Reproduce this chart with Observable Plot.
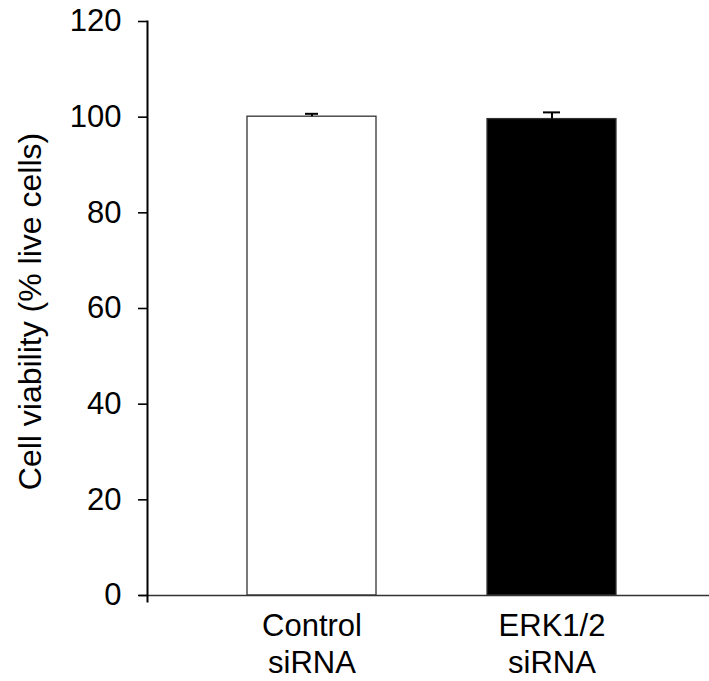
<!DOCTYPE html>
<html>
<head>
<meta charset="utf-8">
<script src="https://cdn.jsdelivr.net/npm/d3@7"></script>
<script src="https://cdn.jsdelivr.net/npm/@observablehq/plot@0.6"></script>
<style>
  html, body { margin: 0; padding: 0; background: #fff; }
  #chart { width: 709px; height: 681px; }
</style>
</head>
<body>
<div id="chart"></div>
<script>
const categories = ["Control siRNA", "ERK1/2 siRNA"];
const tickLabels = ["Control\nsiRNA", "ERK1/2\nsiRNA"];
const values = [100.1, 99.6];
const errors = [0.6, 1.4];
const barFills = ["#ffffff", "#000000"];
const yTicks = [0, 20, 40, 60, 80, 100, 120];
const yTitle = "Cell viability (% live cells)";

const data = categories.map((c, i) => ({cat: c, v: values[i], e: errors[i], fill: barFills[i]}));

const chart = Plot.plot({
  width: 709,
  height: 681,
  marginLeft: 147,
  marginRight: 0,
  marginTop: 21,
  marginBottom: 86,
  style: {fontFamily: "'Liberation Sans', Arial, Helvetica, sans-serif", fontSize: "31px", color: "#000", background: "#fff"},
  x: {domain: categories, paddingInner: 0.4625, paddingOuter: 0.402, align: 0.52, axis: null},
  y: {domain: [0, 120], axis: null},
  marks: [
    Plot.barY(data, {x: "cat", y: "v", fill: d => d.fill, stroke: "#333", strokeWidth: 1.3}),
    Plot.ruleX(data, {x: "cat", y1: "v", y2: d => d.v + d.e, stroke: "#000", strokeWidth: 2}),
    Plot.tickY(data.filter((d, i) => i === 0), {x: "cat", y: d => d.v + d.e, stroke: "#000", strokeWidth: 2, insetLeft: 58, insetRight: 58}),
    Plot.tickY(data.filter((d, i) => i === 1), {x: "cat", y: d => d.v + d.e, stroke: "#000", strokeWidth: 2, insetLeft: 56, insetRight: 56}),
    Plot.ruleY([0], {stroke: "#333", strokeWidth: 1.6, insetLeft: -8}),
    Plot.frame({anchor: "left", stroke: "#000", strokeWidth: 2, insetBottom: -6}),
    Plot.axisY({ticks: yTicks, tickSize: 9, tickPadding: 17, strokeWidth: 1.6, label: null, fontSize: 31}),
    Plot.axisX({tickSize: 0, tickPadding: 15, label: null, fontSize: 31, lineHeight: 1.17,
      tickFormat: d => tickLabels[categories.indexOf(d)]}),
    Plot.text([yTitle], {frameAnchor: "left", rotate: -90, dx: -117, dy: 3, textAnchor: "middle", lineAnchor: "middle", fontSize: 32, fill: "#000"})
  ]
});
document.getElementById("chart").appendChild(chart);
</script>
</body>
</html>
